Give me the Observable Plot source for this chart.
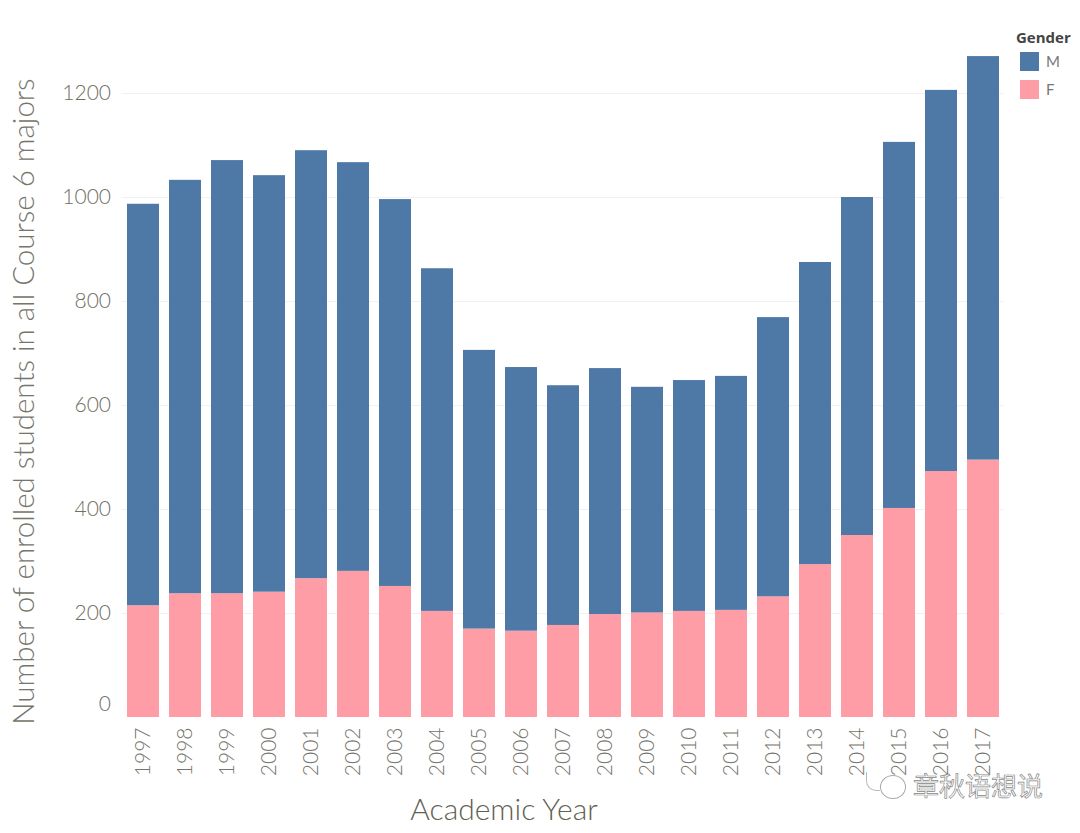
<!DOCTYPE html>
<html><head><meta charset="utf-8">
<script src="https://cdn.jsdelivr.net/npm/d3@7"></script>
<script src="https://cdn.jsdelivr.net/npm/@observablehq/plot@0.6"></script>
<style>
html,body{margin:0;padding:0;background:#fff;overflow:hidden}
#wrap{position:relative;width:1080px;height:833px;font-family:Lato,sans-serif}
.abs{position:absolute}
</style></head>
<body><div id="wrap"></div>
<script>
const years = [1997,1998,1999,2000,2001,2002,2003,2004,2005,2006,2007,2008,2009,2010,2011,2012,2013,2014,2015,2016,2017];
const female = [215,238,238,241,267,281,252,204,170,166,177,198,201,204,206,232,294,350,402,473,495];
const male = [772,795,833,801,823,786,744,659,536,507,461,473,434,444,450,537,581,650,704,733,776];
const genders = ["M","F"];
const colors = ["#4e79a7","#ff9da7"];
const yTicks = [200,400,600,800,1000,1200];
const yTitle = "Number of enrolled students in all Course 6 majors";
const xTitle = "Academic Year";

const rows = [
  ...years.map((y,i)=>({year:String(y),gender:"F",value:female[i]})),
  ...years.map((y,i)=>({year:String(y),gender:"M",value:male[i]}))
];
const wrap = document.getElementById("wrap");
const chart = Plot.plot({
  width:1080,height:833,
  marginLeft:121.5,marginRight:76.5,marginTop:41,marginBottom:116,
  style:{fontFamily:"Lato,sans-serif",background:"#fff"},
  x:{type:"band",domain:years.map(String),paddingInner:0.25,paddingOuter:0.125,align:0.5},
  y:{domain:[0,1300]},
  color:{domain:genders,range:colors},
  marks:[
    Plot.gridY(yTicks,{stroke:"#f1f1f1",strokeOpacity:1}),
    Plot.barY(rows,{x:"year",y:"value",fill:"gender",order:["F","M"]}),
    Plot.axisY(yTicks,{anchor:"left",label:null,tickSize:0,tickPadding:11,fontSize:21,fill:"#6f6f66",fontWeight:300,tickFormat:d=>String(d)}),
    Plot.axisY([0],{anchor:"left",label:null,tickSize:0,tickPadding:11,fontSize:21,fill:"#6f6f66",dy:-13,fontWeight:300,tickFormat:d=>String(d)}),
    Plot.axisX({anchor:"bottom",label:null,tickSize:0,tickPadding:10,tickRotate:-90,fontSize:21,fill:"#75756c",fontWeight:300}),
    Plot.text([yTitle],{frameAnchor:"left",textAnchor:"middle",rotate:-90,dx:-97,dy:22,fontSize:29.5,fill:"#75756c",fontWeight:300}),
    Plot.text([xTitle],{frameAnchor:"bottom",dx:-59,dy:102,fontSize:30,fill:"#5f5f52",fontWeight:300})
  ]
});
wrap.appendChild(chart);
function add(html,css){const d=document.createElement("div");d.className="abs";d.style.cssText=css;d.innerHTML=html;wrap.appendChild(d);}
add("Gender","left:1016px;top:28px;font-size:15px;font-weight:700;color:#444;font-family:'Open Sans',sans-serif;line-height:18px");
genders.forEach((g,i)=>{
  const top=52+i*27.5;
  add("",`left:1020px;top:${top}px;width:19px;height:19px;background:${colors[i]}`);
  add(g,`left:1046px;top:${top}px;font-size:15px;line-height:19px;color:#777`);
});
add("章秋语想说","left:913px;top:768px;font-size:26px;line-height:34px;font-family:'Noto Sans CJK SC';color:#fff;-webkit-text-stroke:0.7px #888");
add("","left:880px;top:775px;width:24px;height:22px;border:1px solid #aaa;border-radius:50%");
add("","left:866px;top:772px;width:13px;height:18px;border-left:1px solid #bbb;border-bottom:1px solid #bbb;border-bottom-left-radius:10px");
</script></body></html>
